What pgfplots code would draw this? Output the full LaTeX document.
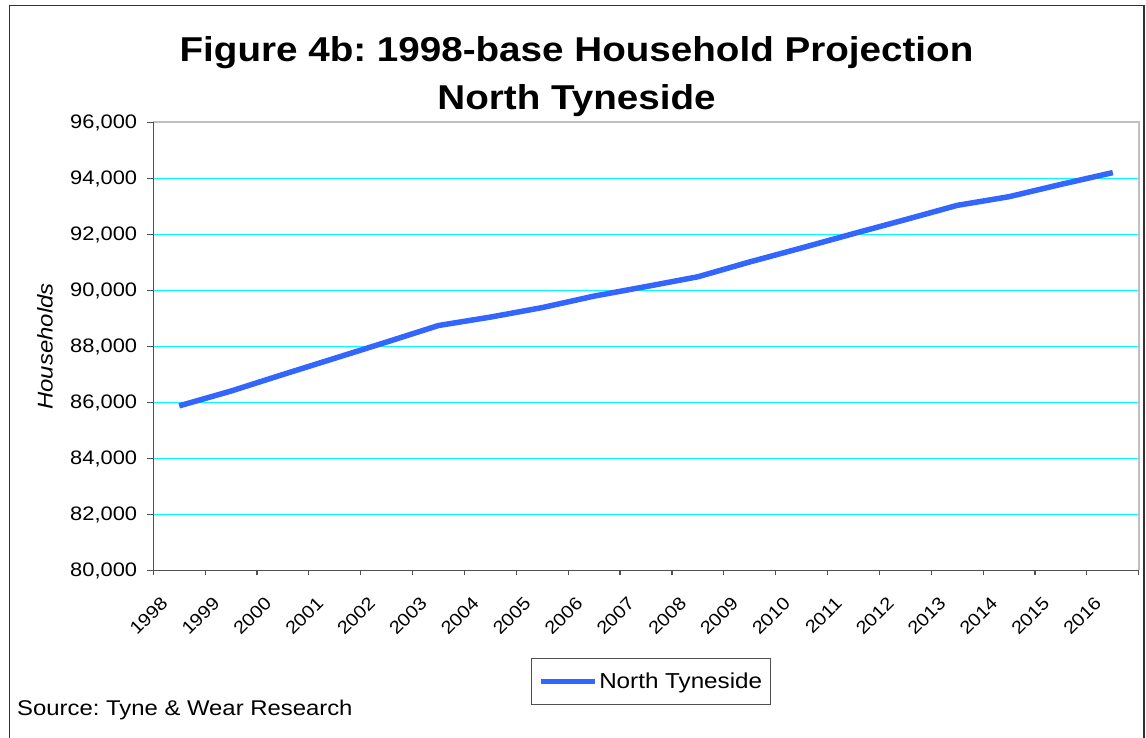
\documentclass[border=0pt]{standalone}
\usepackage{fontspec}
\setmainfont{Liberation Sans}[FakeStretch=1.12]
\usepackage{pgfplots}
\pgfplotsset{compat=1.18}

\definecolor{lineblue}{RGB}{51,102,255}
\definecolor{axisdark}{RGB}{80,80,80}
\definecolor{bordergray}{RGB}{192,192,192}
\definecolor{gridcyan}{RGB}{0,255,255}
\definecolor{framegray}{RGB}{50,50,50}

\begin{document}
\frenchspacing
\begin{tikzpicture}[x=1bp,y=1bp]
\useasboundingbox (0,0) rectangle (1146,738);
% outer chart frame
\draw[line width=1.4bp, color=framegray] (9.5,0) -- (9.5,732.5) -- (1144,732.5) -- (1144,0);

% title
\node[anchor=base, font=\fontsize{34.6}{40}\selectfont\bfseries] at (576.5,676.3) {Figure 4b: 1998-base Household Projection};
\node[anchor=base, font=\fontsize{34.6}{40}\selectfont\bfseries] at (576.5,628) {North Tyneside};

% source note
\node[anchor=base west, inner sep=0pt, font=\fontsize{21.4}{24}\selectfont] at (17,22) {Source: Tyne \& Wear Research};

\begin{axis}[
  at={(153.3bp,167.5bp)}, anchor=south west,
  scale only axis, width=985.4bp, height=448bp,
  xmin=-0.5, xmax=18.5,
  ymin=80000, ymax=96000,
  ytick={80000,82000,...,96000},
  xtick={0,...,18},
  xticklabels={1998,1999,2000,2001,2002,2003,2004,2005,2006,2007,2008,2009,2010,2011,2012,2013,2014,2015,2016},
  minor xtick={-0.5,0.5,...,18.5},
  tick pos=left, tick align=outside,
  major tick length=6bp, minor tick length=5bp,
  major x tick style={draw=none},
  tick style={color=axisdark, line width=1.2bp},
  axis line style={draw=none},
  ymajorgrids, major grid style={color=gridcyan, line width=1.4bp},
  scaled y ticks=false,
  y tick label style={/pgf/number format/1000 sep={,}, /pgf/number format/assume math mode=true,
    font=\fontsize{19.6}{22}\selectfont, anchor=east, inner sep=0pt, xshift=-10bp},
  x tick label style={xshift=-10bp, yshift=-28bp, rotate=45, anchor=south east, inner sep=0pt,
    font=\fontsize{18}{20}\selectfont},
  ylabel={\itshape Households},
  ylabel style={font=\fontsize{21.4}{24}\selectfont, at={(axis description cs:-0.1100,0.5)}, anchor=center, rotate=0},
  legend style={at={(0.505,-0.248)}, anchor=center, draw=axisdark, line width=1bp,
    font=\fontsize{21.7}{24}\selectfont, inner xsep=6.5bp, inner ysep=12.5bp,
    nodes={inner sep=2bp}},
  legend image code/.code={\draw[#1, line width=5.5bp] (0bp,0bp) -- (54bp,0bp);},
  clip=false,
]
\addplot[color=lineblue, line width=5.5bp, no marks] coordinates {
  (0,85880) (1,86410) (2,87000) (3,87580) (4,88160) (5,88750)
  (6,89050) (7,89390) (8,89800) (9,90140) (10,90490)
  (11,91020) (12,91520) (13,92030) (14,92530) (15,93040)
  (16,93350) (17,93790) (18,94210)
};
\addlegendentry{North Tyneside}
% plot-area border: light on top and right, dark axis lines on left and bottom
\draw[color=bordergray, line width=2bp] (rel axis cs:0,1) -- (rel axis cs:1,1) -- (rel axis cs:1,0);
\draw[color=axisdark, line width=1.2bp] (rel axis cs:0,1) -- (rel axis cs:0,0) -- (rel axis cs:1,0);
\end{axis}
\end{tikzpicture}
\end{document}
